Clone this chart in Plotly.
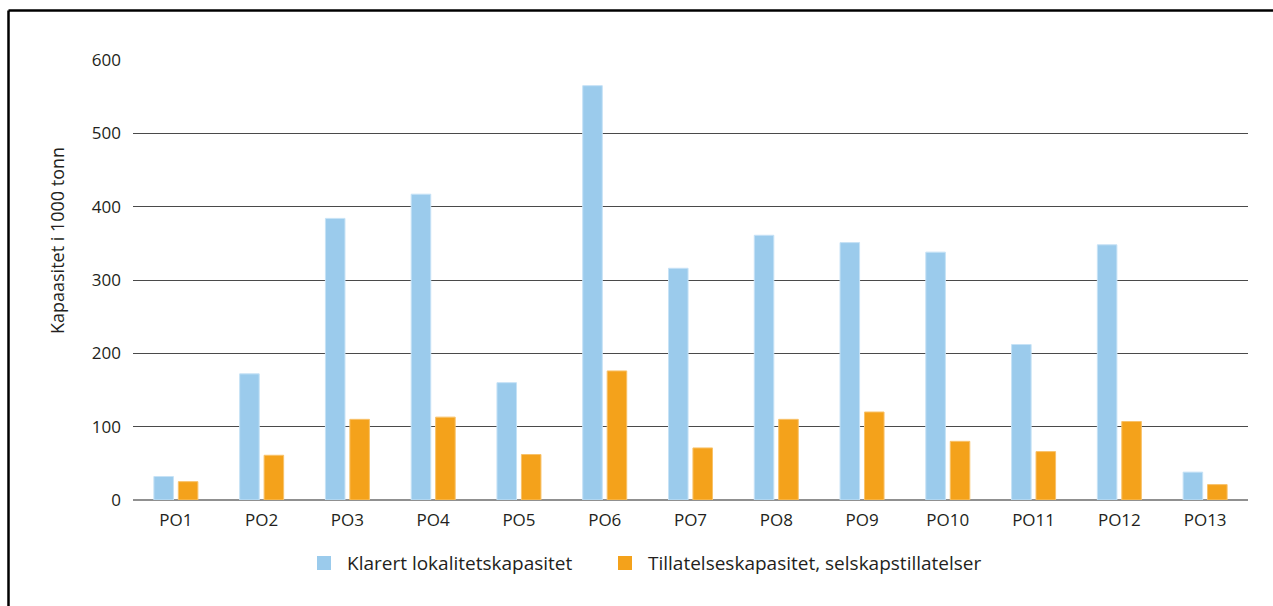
import plotly.graph_objects as go

# Produksjonsområder og kapasitet (1000 tonn)
omrader = ["PO1", "PO2", "PO3", "PO4", "PO5", "PO6", "PO7",
           "PO8", "PO9", "PO10", "PO11", "PO12", "PO13"]
klarert = [32, 172, 384, 417, 160, 565, 316, 361, 351, 338, 212, 348, 38]
tillatelse = [25, 61, 110, 113, 62, 176, 71, 110, 120, 80, 66, 107, 21]
y_ticks = [0, 100, 200, 300, 400, 500, 600]

serie_navn = ["Klarert lokalitetskapasitet", "Tillatelseskapasitet, selskapstillatelser"]
farger = ["#9BCBEC", "#F4A21B"]
kantfarger = ["#C6E2F6", "#F8C26A"]

W, H = 1273, 606
ML, MR, MT, MB = 133, 25, 60, 106
plot_w = W - ML - MR
plot_h = H - MT - MB


def px_x(x):
    return (x - ML) / plot_w


def px_y(y):
    return (H - MB - y) / plot_h


FONT = "Open Sans"
TXT = "#231f20"

fig = go.Figure()
for navn, verdier, farge, kant in zip(serie_navn, [klarert, tillatelse], farger, kantfarger):
    fig.add_trace(go.Bar(
        x=omrader, y=verdier, name=navn, showlegend=False,
        marker=dict(color=farge, line=dict(color=kant, width=1)),
    ))

# Forklaring under diagrammet: farget rute + tekst for hver serie
legend_y = 563
legend_start = [317, 618]
shapes = []
annotations = []
for navn, farge, x0 in zip(serie_navn, farger, legend_start):
    shapes.append(dict(
        type="rect", xref="paper", yref="paper",
        x0=px_x(x0), x1=px_x(x0 + 14),
        y0=px_y(legend_y + 7), y1=px_y(legend_y - 7),
        fillcolor=farge, line=dict(width=0),
    ))
    annotations.append(dict(
        text=navn, xref="paper", yref="paper",
        x=px_x(x0 + 28), y=px_y(legend_y),
        xanchor="left", yanchor="middle", showarrow=False,
        font=dict(family=FONT, size=19, color=TXT),
    ))

annotations.append(dict(
    text="Kapaasitet i 1000 tonn", textangle=-90,
    xref="paper", yref="paper", x=px_x(57), y=px_y(241),
    xanchor="center", yanchor="middle", showarrow=False,
    font=dict(family=FONT, size=18, color=TXT),
))

# Ramme oppe og til venstre
shapes += [
    dict(type="line", xref="paper", yref="paper",
         x0=px_x(8.5), x1=px_x(1300), y0=px_y(10.5), y1=px_y(10.5),
         line=dict(color="black", width=2.5)),
    dict(type="line", xref="paper", yref="paper",
         x0=px_x(8.5), x1=px_x(8.5), y0=px_y(10.5), y1=px_y(620),
         line=dict(color="black", width=2.5)),
]

fig.update_layout(
    width=W, height=H,
    margin=dict(l=ML, r=MR, t=MT, b=MB, pad=0),
    paper_bgcolor="white", plot_bgcolor="white",
    barmode="group", bargap=0.43, bargroupgap=0.2,
    font=dict(family=FONT, size=17, color=TXT),
    showlegend=False,
    xaxis=dict(
        showgrid=False, showline=False, zeroline=False,
        ticks="", ticklabelstandoff=8,
        tickfont=dict(family=FONT, size=17, color=TXT),
    ),
    yaxis=dict(
        range=[0, 600], tickvals=y_ticks,
        showgrid=True, gridcolor="#4a4a4a", gridwidth=1,
        zeroline=True, zerolinecolor="#909090", zerolinewidth=2,
        showline=False, ticks="", ticklabelstandoff=11,
        tickfont=dict(family=FONT, size=17, color=TXT),
    ),
    annotations=annotations,
    shapes=shapes,
)

fig.write_html("out.html")
